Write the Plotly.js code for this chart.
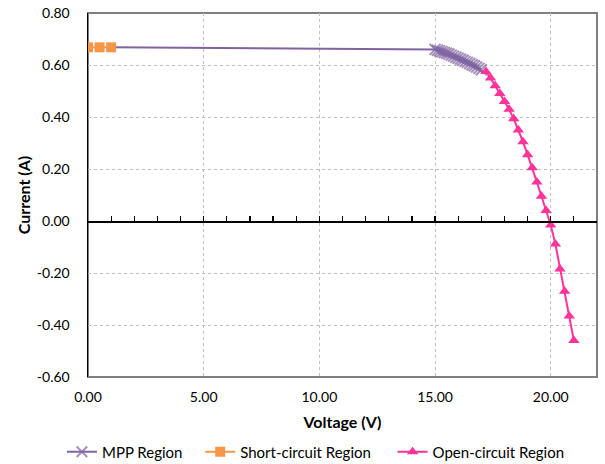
<!DOCTYPE html>
<html>
<head>
<meta charset="utf-8">
<script src="https://cdn.plot.ly/plotly-3.0.1.min.js"></script>
<style>html,body{margin:0;padding:0;background:#fff}#chart{width:605px;height:464px}</style>
</head>
<body>
<div id="chart"></div>
<script>
// Short-circuit region
const scVoltage = [0.0, 0.5, 1.0];
const scCurrent = [0.668, 0.668, 0.668];

// MPP region
const mppVoltage = [1.0, 15.0, 15.1, 15.2, 15.3, 15.4, 15.5, 15.6, 15.7, 15.8, 15.9, 16.0, 16.1, 16.2, 16.3, 16.4, 16.5, 16.6, 16.7, 16.8, 16.9, 17.0];
const mppCurrent = [0.668, 0.660, 0.657, 0.654, 0.651, 0.648, 0.645, 0.642, 0.638, 0.634, 0.630, 0.626, 0.622, 0.618, 0.614, 0.610, 0.606, 0.601, 0.597, 0.592, 0.587, 0.582];

// Open-circuit region
const ocVoltage = [17.2, 17.4, 17.6, 17.8, 18.0, 18.2, 18.4, 18.6, 18.8, 19.0, 19.2, 19.4, 19.6, 19.8, 20.0, 20.2, 20.4, 20.6, 20.8, 21.0];
const ocCurrent = [0.575, 0.550, 0.520, 0.490, 0.460, 0.430, 0.393, 0.350, 0.305, 0.255, 0.205, 0.150, 0.095, 0.040, -0.015, -0.088, -0.185, -0.270, -0.365, -0.460];

// Tick labels
const xTickVals = [0, 5, 10, 15, 20];
const xTickText = ["0.00", "5.00", "10.00", "15.00", "20.00"];
const yTickVals = [-0.6, -0.4, -0.2, 0.0, 0.2, 0.4, 0.6, 0.8];
const yTickText = ["-0.60", "-0.40", "-0.20", "0.00", "0.20", "0.40", "0.60", "0.80"];

const seriesNames = ["MPP Region", "Short-circuit Region", "Open-circuit Region"];
const xTitle = "Voltage (V)";
const yTitle = "Current (A)";

const FONT = "Lato, 'Open Sans', sans-serif";
const legFont = {family: FONT, size: 15, color: "#000"};

// the first MPP point sits under the short-circuit squares: its marker is hidden there
const mppMarkerSize = mppVoltage.map((v, i) => (i === 0 ? 0 : 11));

const traces = [
  {
    x: mppVoltage, y: mppCurrent, name: seriesNames[0], type: "scatter", mode: "lines+markers",
    line: {color: "#8064A2", width: 2}, legend: "legend",
    marker: {symbol: "x-thin", size: mppMarkerSize, line: {color: "#8064A2", width: 2}, color: "#8064A2"}
  },
  {
    x: scVoltage, y: scCurrent, name: seriesNames[1], type: "scatter", mode: "lines+markers",
    line: {color: "#F79646", width: 2}, legend: "legend2",
    marker: {symbol: "square", size: 10, color: "#F79646"}
  },
  {
    x: ocVoltage, y: ocCurrent, name: seriesNames[2], type: "scatter", mode: "lines+markers",
    line: {color: "#FF3399", width: 2}, legend: "legend3",
    marker: {symbol: "triangle-up", size: 10, color: "#FF3399"}
  },
  // invisible carrier so the zero-line axis (x2, with minor ticks) gets drawn
  {
    x: scVoltage, y: scCurrent, xaxis: "x2", type: "scatter", mode: "lines",
    line: {width: 0, color: "rgba(0,0,0,0)"}, showlegend: false, hoverinfo: "skip"
  }
];

function leg(px) {
  return {orientation: "h", x: (px - 88) / 508, xanchor: "left", y: -0.206, yanchor: "middle",
          font: legFont, itemwidth: 30, bgcolor: "rgba(0,0,0,0)"};
}

const layout = {
  width: 605, height: 464,
  margin: {l: 88, r: 8, t: 13, b: 87, autoexpand: false},
  paper_bgcolor: "#fff", plot_bgcolor: "#fff",
  font: {family: FONT, size: 14, color: "#000"},
  showlegend: true,
  legend: leg(62), legend2: leg(200), legend3: leg(392),
  xaxis: {
    range: [0, 22], tickmode: "array", tickvals: xTickVals, ticktext: xTickText,
    showgrid: true, gridcolor: "#BFBFBF", griddash: "dot", gridwidth: 1,
    zeroline: false, showline: false, ticks: "", ticklabelstandoff: 10,
    tickfont: {family: FONT, size: 14, color: "#000"},
    title: {text: xTitle, font: {family: FONT, size: 16, color: "#000", weight: "bold"}, standoff: 12}
  },
  xaxis2: {
    overlaying: "x", anchor: "free", position: 0.6 / 1.4, side: "bottom",
    range: [0, 22], tick0: 0, dtick: 1, ticks: "inside", ticklen: 5, tickwidth: 1.2, tickcolor: "#000",
    showticklabels: false, showgrid: false, zeroline: false, showline: true, linecolor: "#000", linewidth: 1.5
  },
  yaxis: {
    range: [-0.6, 0.8], tickmode: "array", tickvals: yTickVals, ticktext: yTickText,
    showgrid: true, gridcolor: "#BFBFBF", griddash: "dot", gridwidth: 1,
    zeroline: false, showline: true, linecolor: "#000", linewidth: 1.5, ticks: "", ticklabelstandoff: 14,
    tickfont: {family: FONT, size: 14, color: "#000"},
    title: {text: yTitle, font: {family: FONT, size: 16, color: "#000", weight: "bold"}, standoff: 2}
  },
  shapes: [
    {type: "rect", xref: "paper", yref: "paper", x0: 0, x1: 1, y0: 0, y1: 1,
     line: {color: "#7F7F7F", width: 2}, layer: "below"}
  ]
};

Plotly.newPlot("chart", traces, layout, {staticPlot: true, displayModeBar: false});
</script>
</body>
</html>
